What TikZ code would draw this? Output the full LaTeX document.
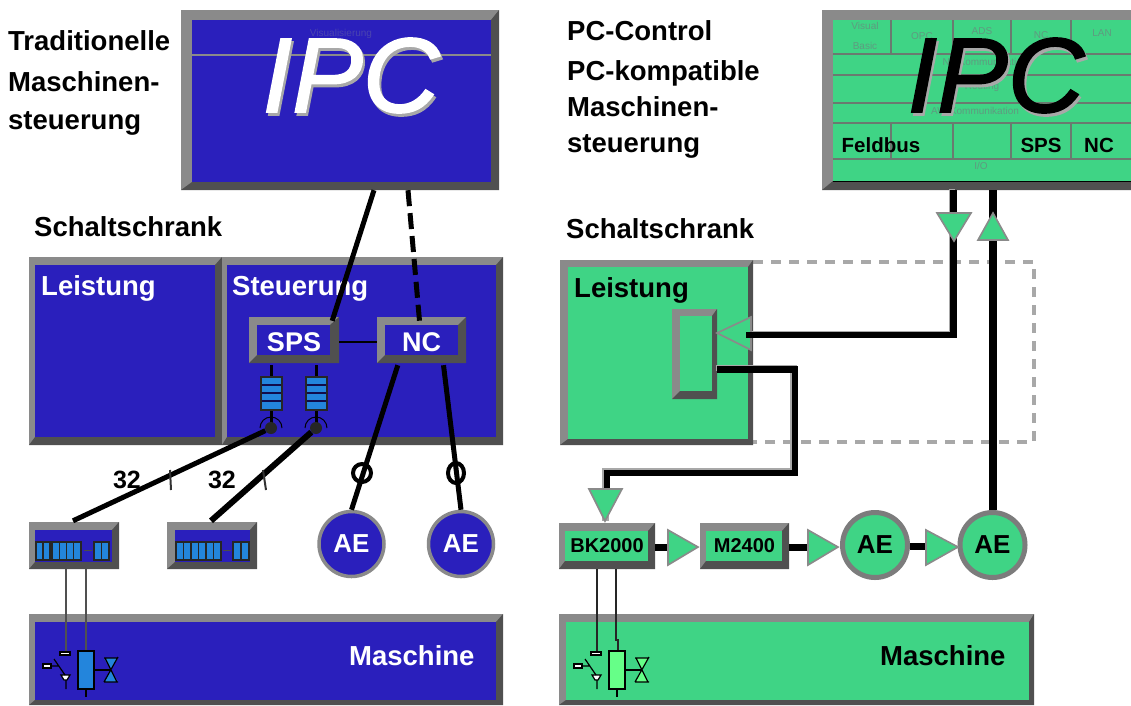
\documentclass[tikz,border=0pt]{standalone}
\usepackage{fontspec}
\setmainfont{Liberation Sans}
\newfontface\ipcf[FakeBold=1.6]{Liberation Sans Italic}
\usetikzlibrary{calc,shapes.geometric}
\definecolor{blu}{HTML}{2A1FBC}
\definecolor{grn}{HTML}{3FD485}
\definecolor{lt}{HTML}{8A8A8A}
\definecolor{dk}{HTML}{505050}
\definecolor{sky}{HTML}{2385DC}
\definecolor{lgrn}{HTML}{66FF88}
\definecolor{shad}{HTML}{A8A8A8}
\definecolor{fainta}{HTML}{5F9A80}
\definecolor{faintb}{HTML}{4A44B0}
\definecolor{gridc}{HTML}{6A7A70}
\newcommand{\fs}[1]{\fontsize{#1}{#1}\selectfont}
\newcommand{\bevel}[9]{%
  \fill[lt] (#1,#2) rectangle (#3,#4);
  \fill[dk] (#3,#2) -- (#3,#4) -- (#1,#4) -- (#5,#8) -- (#7,#8) -- (#7,#6) -- cycle;
  \fill[#9] (#5,#6) rectangle (#7,#8);
  \pgfmathsetmacro{\cx}{(#1+#3)/2}\pgfmathsetmacro{\cy}{(#2+#4)/2}%
  \pgfmathsetmacro{\cw}{#3-#1}\pgfmathsetmacro{\ch}{#4-#2}%
}
\tikzset{
  bx/.style={inner sep=0pt,minimum width=\cw pt,minimum height=\ch pt,font=\bfseries\fs{27},anchor=center},
  lab/.style={inner sep=0pt,anchor=base west,font=\bfseries\fs{27.5}},
  wlab/.style={lab,text=white},
  blab/.style={lab,text=black},
  sm/.style={inner sep=0pt,font=\bfseries\fs{20.5},text=black},
  faint/.style={inner sep=0pt,font=\fs{10}},
  big/.style={inner sep=0pt,font=\ipcf\fs{106}},
  ae/.style={circle,inner sep=0pt,font=\bfseries\fs{26}},
  wire/.style={line width=#1,black},
  wire/.default=3pt,
  grid/.style={draw=gridc,line width=1.2pt},
  tri/.style={fill=grn,draw=lt,line width=1.6pt,line join=miter},
  term/.style={fill=sky,draw=black!85,line width=1.3pt},
}
\newcommand{\slots}[5]{% x1 x2 y1 y2 n
  \draw[term] (#1,#3) rectangle (#2,#4);
  \foreach \i in {1,...,#5}{\pgfmathsetmacro{\xx}{#1+(#2-#1)*\i/#5}\ifnum\i<#5 \draw[black!85,line width=1.3pt] (\xx,#3) -- (\xx,#4);\fi}
}
\newcommand{\valve}[2]{% dx, fill
  \begin{scope}[xshift=#1pt,line width=1.2pt]
    \draw (86,689) -- (86,697);
    \draw[fill=#2] (78,651) rectangle (94,689);
    \draw (94,670) -- (110,670);
    \fill[#2] (104,658) -- (118,658) -- (111,670) -- (118,682) -- (104,682) -- (111,670) -- cycle;
    \draw (104,658) -- (118,658) (104,682) -- (118,682) (105,658) -- (117,682) (118,657) -- (104,682);
    \draw[fill=white] (60,652) rectangle (70,655);
    \draw[fill=white] (43,664) rectangle (51,668);
    \draw[fill=white] (61,675) -- (70,675) -- (67,680) -- (64,680) -- cycle;
    \draw (54,659) -- (65,675) (51,666) -- (58,666) (66,680) -- (66,689);
  \end{scope}
}
\begin{document}
\begin{tikzpicture}[x=1pt,y=-1pt]
\useasboundingbox (0,0) rectangle (1131,705);
\fill[white] (0,0) rectangle (1131,705);

% --- left side texts
\node[blab] (t1) at (8,50) {Traditionelle};
\node[blab] (t2) at (8,91) {Maschinen-};
\node[blab] (t3) at (8,129) {steuerung};
\node[blab] (t4) at (34,236) {Schaltschrank};

% --- left IPC
\bevel{181}{10}{499}{190}{192}{20}{491}{182}{blu}
\node[bx] (ipcL) at (\cx,\cy) {};
\draw[lt,line width=1.1pt] (192,55) -- (491,55);
\node[faint,text=faintb] (vis) at (341,34) {Visualisierung};
\node[big,text=shad,anchor=base] (ipcLs) at (353,115) {IPC};
\node[big,text=white,anchor=base] (ipcLt) at (351,112) {IPC};

% --- cabinet left
\bevel{29}{257}{222}{445}{35}{265}{215}{437}{blu}
\node[bx] (leiL) at (\cx,\cy) {};
\node[wlab] (leiLt) at (41,295) {Leistung};
\bevel{222}{257}{503}{445}{227}{265}{496}{437}{blu}
\node[bx] (steu) at (\cx,\cy) {};
\node[wlab] (steut) at (232,295) {Steuerung};

\bevel{249}{317}{339}{363}{257}{325}{330}{355}{blu}
\node[bx,text=white] (sps) at (\cx,\cy+2) {SPS};
\bevel{377}{317}{466}{363}{385}{325}{458}{355}{blu}
\node[bx,text=white] (nc) at (\cx,\cy+2) {NC};

% IPC to SPS / NC
\draw[wire=5pt] ([xshift=34pt]ipcL.south) -- ([xshift=-7pt,yshift=-2pt]sps.north east);
\draw[wire=5pt,dash pattern=on 16pt off 7pt] ([xshift=68pt]ipcL.south) -- ([xshift=-2pt,yshift=-2pt]nc.north);
\draw[wire=2pt] (sps.east) -- (nc.west);

% fuses
\foreach \fx/\nm in {271/fa,316/fb}{
  \coordinate (\nm) at (\fx,428);
  \draw[wire=3pt] (\nm) -- (\nm |- sps.south);
  \draw[fill=sky,draw=black!85,line width=1.4pt] (\fx-10,377) rectangle (\fx+11,410);
  \foreach \yy in {384,392,400}{\fill[blu!40!black] (\fx-9,\yy) rectangle (\fx+10,\yy+1.5);}
  \draw[black,line width=1pt] (\fx-11,428) arc[start angle=180,end angle=0,radius=11pt];
  \node[circle,fill=black!85,minimum size=12pt,inner sep=0pt] (\nm) at (\fx,428) {};
}

% small terminal boxes
\bevel{29}{522}{119}{569}{35}{530}{112}{562}{blu}
\node[bx] (ioa) at (\cx,\cy) {};
\slots{36}{50}{542}{560}{2}
\slots{52}{81}{542}{560}{4}
\slots{94}{109}{542}{560}{2}
\draw[black!70,line width=0.6pt] (84,550) -- (92,550);
\bevel{167}{522}{257}{569}{175}{530}{250}{562}{blu}
\node[bx] (iob) at (\cx,\cy) {};
\slots{176}{221}{542}{560}{6}
\slots{233}{249}{542}{560}{2}
\draw[black!70,line width=0.6pt] (223,550) -- (231,550);

\draw[wire=5pt] (fa) -- ([xshift=-1pt,yshift=1pt]ioa.north);
\draw[wire=6pt] (fb) -- ([xshift=-1pt,yshift=1pt]iob.north);
\draw[black!80,line width=2pt] (170,470) -- (171,490);
\draw[black!80,line width=2pt] (263,470) -- (266,490);
\node[inner sep=0pt,font=\bfseries\fs{25}] (n32a) at (127,480) {32};
\node[inner sep=0pt,font=\bfseries\fs{25}] (n32b) at (222,480) {32};

% AE left
\node[ae,fill=blu,draw=lt,line width=3.5pt,minimum size=65pt,text=white] (ae1) at (351.5,544) {AE};
\node[ae,fill=blu,draw=lt,line width=3.5pt,minimum size=65pt,text=white] (ae2) at (461,544) {AE};
\draw[wire=5pt] ([xshift=21pt]nc.south west) -- (ae1.north);
\draw[wire=5pt] ([xshift=22pt]nc.south) -- (ae2.north);
\node[draw=black,line width=4pt,circle,minimum size=18pt,inner sep=0pt] (fer1) at (362,473) {};
\node[draw=black,line width=4pt,ellipse,minimum width=16pt,minimum height=20pt,inner sep=0pt] (fer2) at (456,473) {};

% machine left
\bevel{29}{614}{503}{705}{35}{622}{496}{700}{blu}
\node[bx] (maL) at (\cx,\cy) {};
\node[wlab] (maLt) at (349,665) {Maschine};
\draw[dk,line width=2.5pt] ([xshift=-8pt]ioa.south) -- ++(0,83);
\draw[dk,line width=2.5pt] ([xshift=12pt]ioa.south) -- ++(0,82);
\valve{0}{sky}

% --- right side texts
\node[blab] (r1) at (567,40) {PC-Control};
\node[blab] (r2) at (567,80) {PC-kompatible};
\node[blab] (r3) at (567,116) {Maschinen-};
\node[blab] (r4) at (567,152) {steuerung};
\node[blab] (r5) at (566,238) {Schaltschrank};

% --- dashed
\draw[shad,line width=3.5pt,dash pattern=on 10pt off 8pt] (753,262) -- (1034,262) -- (1034,442) -- (753,442);

% --- right IPC
\bevel{822}{10}{1131}{190}{833}{20}{1131}{181}{grn}
\node[bx] (ipcR) at (\cx,\cy) {};
\foreach \yy in {54,75,103,123,159}{\draw[grid] (833,\yy) -- (1131,\yy);}
\foreach \xx in {891,953,1011,1071}{\draw[grid] (\xx,20) -- (\xx,54);\draw[grid] (\xx,123) -- (\xx,159);}
\draw[black,line width=1pt] (833,181) -- (1131,181);
\node[faint,text=fainta] (c1) at (865,26) {Visual};
\node[faint,text=fainta] (c2) at (865,46) {Basic};
\node[faint,text=fainta] (c3) at (922,36) {OPC};
\node[faint,text=fainta] (c4) at (982,31) {ADS};
\node[faint,text=fainta] (c5) at (1041,35) {NC};
\node[faint,text=fainta] (c6) at (1102,33) {LAN};
\node[faint,text=fainta] (c7) at (985,62) {NT-Kommunikation};
\node[faint,text=fainta] (c8) at (982,87) {Routing};
\node[faint,text=fainta] (c9) at (975,111) {AW-Kommunikation};
\node[faint,text=fainta] (c10) at (981,166) {I/O};
\node[sm] (c11) at (881,145) {Feldbus};
\node[sm] (c12) at (1041,145) {SPS};
\node[sm] (c13) at (1099,145) {NC};
\node[big,text=shad,anchor=base] (ipcRs) at (998,115) {IPC};
\node[big,text=black,anchor=base] (ipcRt) at (996,112) {IPC};

% --- Leistung right
\bevel{560}{260}{753}{445}{568}{267}{748}{439}{grn}
\node[bx] (leiR) at (\cx,\cy) {};
\node[blab] (leiRt) at (574,297) {Leistung};
\bevel{672}{309}{717}{399}{680}{316}{712}{391}{grn}
\node[bx] (inv) at (\cx,\cy) {};

% devices right
\bevel{559}{523}{655}{569}{565}{531}{648}{561}{grn}
\node[bx,font=\bfseries\fs{20}] (bk) at (\cx,\cy) {BK2000};
\bevel{700}{523}{789}{569}{706}{531}{782}{561}{grn}
\node[bx,font=\bfseries\fs{20}] (m24) at (\cx,\cy) {M2400};
\node[ae,fill=grn,draw=lt!90!black,line width=5pt,minimum size=65pt,text=black] (ae3) at (875,545) {AE};
\node[ae,fill=grn,draw=lt!90!black,line width=5pt,minimum size=65pt,text=black] (ae4) at (992.5,545) {AE};

% connectors right
\coordinate (k1) at (953.5,335);
\coordinate (k0) at (746,335);
\coordinate (k2) at (795,369.5);
\coordinate (k3) at (607,473);
\draw[shad,line width=6.5pt,transform canvas={shift={(-1.5pt,1.5pt)}}] (k1) -- (ipcR.south -| k1);
\draw[shad,line width=6pt,transform canvas={shift={(-1.5pt,1.5pt)}}] (k0) -- (k1);
\draw[shad,line width=6.5pt,transform canvas={shift={(-1.5pt,1.5pt)}}] (inv.east |- k2) -- (k2) -- (k2 |- k3) -- (k3) -- (k3 |- bk.north);
\draw[wire=6.5pt,line join=miter] (k0) -- (k1) -- (ipcR.south -| k1);
\draw[wire=6.5pt,line join=miter] (inv.east |- k2) -- (k2) -- (k2 |- k3) -- (k3) -- (607,495);
\draw[wire=8pt] (ae4.north) -- (ae4.north |- ipcR.south);
\draw[wire=7pt] (bk.east) ++(0,1) -- ++(17,0);
\draw[wire=7pt] (m24.east) ++(0,1) -- ++(22,0);
\draw[wire=7pt] (ae3.east) ++(0,1) -- (932,546);

\draw[tri] (717,333) -- (751,317) -- (751,350) -- cycle;
\draw[wire=5.5pt] (k0) -- (760,335);
\draw[tri] (937,213) -- (971,213) -- (954,241) -- cycle;
\draw[tri] (978,240) -- (1008,240) -- (993,213) -- cycle;
\draw[tri] (589,489) -- (622,489) -- (605,521) -- cycle;
\draw[tri] (668,530) -- (668,565) -- (698,547) -- cycle;
\draw[tri] (808,530) -- (808,565) -- (838,547) -- cycle;
\draw[tri] (926,530) -- (926,565) -- (958,547) -- cycle;

% machine right
\bevel{559}{614}{1034}{705}{566}{622}{1029}{700}{grn}
\node[bx] (maR) at (\cx,\cy) {};
\node[blab] (maRt) at (880,665) {Maschine};
\draw[black!85,line width=1.5pt] ([xshift=-10pt]bk.south) -- ++(0,83);
\draw[black!85,line width=1.5pt] ([xshift=9pt]bk.south) -- ++(0,71) -- ++(2,0) -- ++(0,11);
\valve{531}{lgrn}
\end{tikzpicture}
\end{document}
